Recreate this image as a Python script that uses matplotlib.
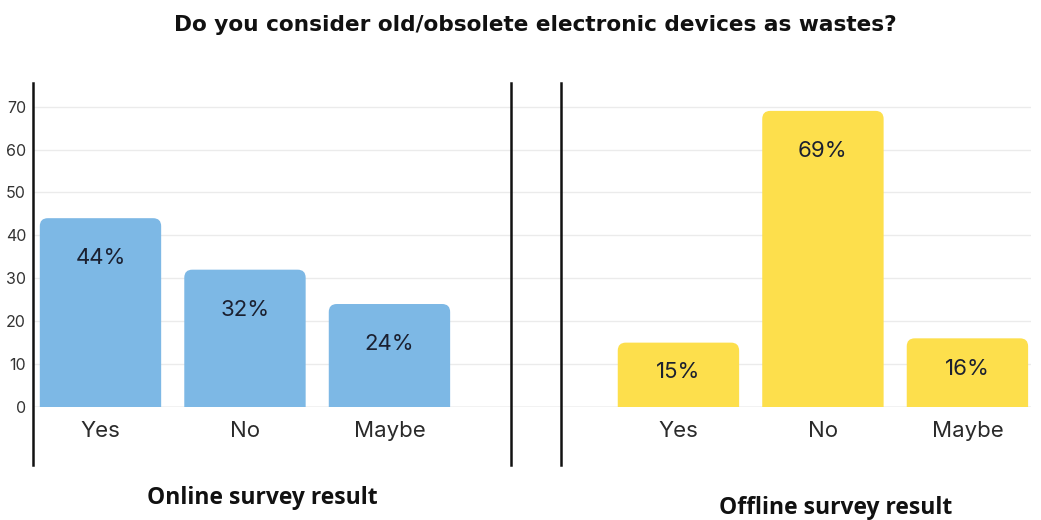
import matplotlib.pyplot as plt
from matplotlib.patches import FancyBboxPatch

categories = ["Yes", "No", "Maybe"]
online = [44, 32, 24]
offline = [15, 69, 16]
title = "Do you consider old/obsolete electronic devices as wastes?"
online_label = "Online survey result"
offline_label = "Offline survey result"

blue = "#7db8e5"
yellow = "#fddf4c"
plt.rcParams['font.family'] = ['Inter', 'DejaVu Sans']

fig = plt.figure(figsize=(10.41, 5.20), dpi=100)
ax = fig.add_axes([33 / 1041, 113 / 520, 998 / 1041, 324 / 520])

x_on = [0, 1, 2]
x_off = [4, 5, 6]
width = 0.84
ax.set_xlim(-0.467, 6.44)
ax.set_ylim(0, 75.5)

# rounded-top bars: draw plain bars, then swap them for rounded boxes
# that start below zero so only the top corners show
px_x = (6.44 + 0.467) / 998
px_y = 75.5 / 324
r = 8 * px_x
aspect = px_y / px_x
bars = list(ax.bar(x_on, online, width=width, color=blue)) + \
    list(ax.bar(x_off, offline, width=width, color=yellow))
for b in bars:
    b.set_visible(False)
    box = FancyBboxPatch((b.get_x(), -10), b.get_width(), b.get_height() + 10,
                         boxstyle=f"round,pad=0,rounding_size={r}",
                         mutation_aspect=aspect, facecolor=b.get_facecolor(),
                         edgecolor="none", zorder=3)
    ax.add_patch(box)

for xs, vals in [(x_on, online), (x_off, offline)]:
    for x, v in zip(xs, vals):
        ty = v - 9.3 if v > 20 else v * 0.55
        ax.text(x, ty, f"{v}%", ha="center", va="center", fontsize=16,
                color="#1b2030", zorder=4)

ax.set_yticks(range(0, 71, 10))
ax.grid(axis="y", color="#ebebeb", linewidth=1)
ax.axhline(0, color="#d0d0d0", linewidth=1, zorder=1)
ax.set_axisbelow(True)
ax.tick_params(axis="y", length=0, pad=5, labelsize=11.5, labelcolor="#333333")
ax.set_xticks(x_on + x_off)
ax.set_xticklabels(categories * 2)
ax.tick_params(axis="x", length=0, pad=10, labelsize=16, labelcolor="#2a2a2a")
for s in ax.spines.values():
    s.set_visible(False)

# separators
for xv in [-0.467, 2.84, 3.187]:
    ax.plot([xv, xv], [-13.5, 75.5], color="#111111", linewidth=1.8,
            clip_on=False, zorder=5)

fig.text(535 / 1041, 1 - 25 / 520, title, ha="center", va="center",
         fontsize=15.6, fontweight="bold", color="#111111",
         family=["DejaVu Sans"])
fig.text(262 / 1041, 1 - 498 / 520, online_label, ha="center", va="center",
         fontsize=16.5, fontweight="bold", color="#111111",
         family=["Open Sans"])
fig.text(836 / 1041, 1 - 508 / 520, offline_label, ha="center", va="center",
         fontsize=16.5, fontweight="bold", color="#111111",
         family=["Open Sans"])

fig.savefig("out.png", dpi=100, facecolor="white")
